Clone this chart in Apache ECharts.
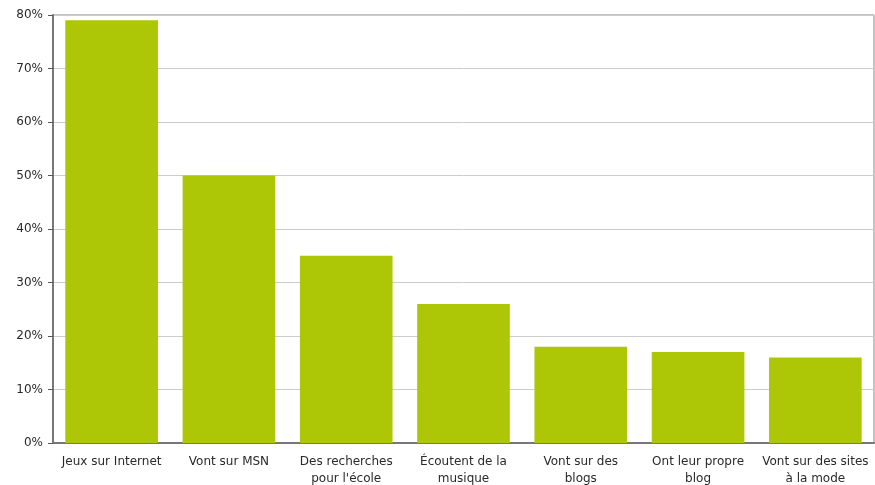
<!DOCTYPE html>
<html>
<head>
<meta charset="utf-8">
<script src="https://cdn.jsdelivr.net/npm/echarts@6/dist/echarts.min.js"></script>
<style>
  html, body { margin: 0; padding: 0; background: #ffffff; }
  #main { width: 875px; height: 485px; }
</style>
</head>
<body>
<div id="main"></div>
<script>
var categories = [
    'Jeux sur Internet',
    'Vont sur MSN',
    'Des recherches\npour l\'école',
    'Écoutent de la\nmusique',
    'Vont sur des\nblogs',
    'Ont leur propre\nblog',
    'Vont sur des sites\nà la mode'
];
var values = [79, 50, 35, 26, 18, 17, 16];

var chartDom = document.getElementById('main');
var myChart = echarts.init(chartDom);
var option;

option = {
    animation: false,
    grid: {
        left: 53,
        right: 1,
        top: 15,
        bottom: 42,
        outerBoundsMode: 'none',
        show: true,
        borderColor: '#888888',
        borderWidth: 1
    },
    xAxis: {
        type: 'category',
        data: categories,
        axisLine: { lineStyle: { color: '#777777', width: 2 } },
        axisTick: { alignWithLabel: true, length: 5, lineStyle: { color: '#555555' } },
        axisLabel: {
            color: '#2a2a2a',
            fontFamily: 'DejaVu Sans',
            fontSize: 12,
            lineHeight: 17,
            margin: 10,
            interval: 0
        }
    },
    yAxis: {
        type: 'value',
        min: 0,
        max: 80,
        interval: 10,
        axisLine: { show: true, lineStyle: { color: '#777777', width: 2 } },
        axisTick: { show: true, length: 5, lineStyle: { color: '#555555' } },
        axisLabel: {
            formatter: '{value}%',
            color: '#2a2a2a',
            fontFamily: 'DejaVu Sans',
            fontSize: 12,
            margin: 10
        },
        splitLine: { lineStyle: { color: '#cccccc' } }
    },
    series: [
        {
            type: 'bar',
            data: values,
            barWidth: '79%',
            itemStyle: { color: '#adc706' }
        }
    ]
};

option && myChart.setOption(option);
</script>
</body>
</html>
